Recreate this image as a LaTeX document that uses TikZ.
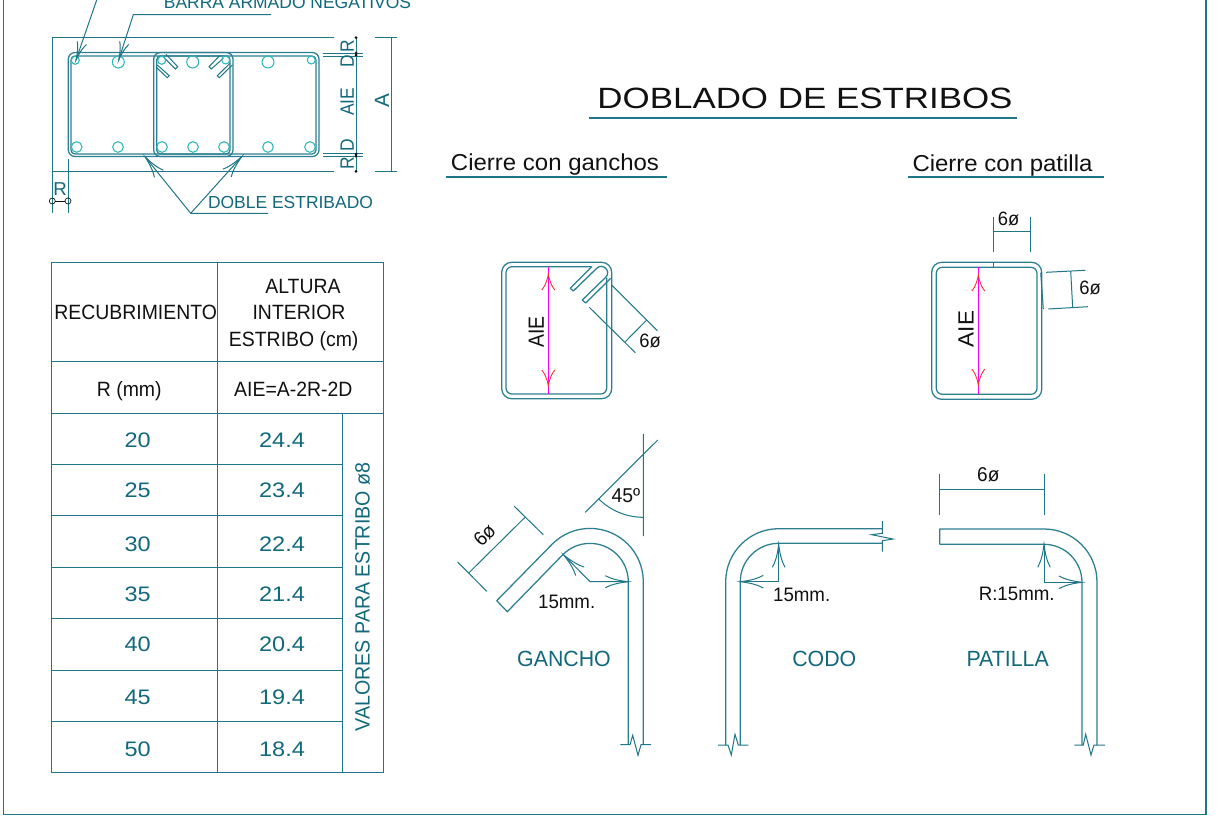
\documentclass[tikz,border=0pt]{standalone}
\usepackage{graphicx}
\usepackage{fontspec}
\setmainfont{Liberation Sans}
\definecolor{tl}{HTML}{1F7687}
\definecolor{tlst}{HTML}{2B7F90}
\definecolor{tltxt}{HTML}{12697C}
\definecolor{cyanb}{HTML}{2DB8B8}
\definecolor{ink}{HTML}{111111}
\definecolor{mgn}{HTML}{FF00FF}
\definecolor{rdb}{HTML}{FF2A2A}
\newcommand{\T}[8]{\node[inner sep=0,outer sep=0,rotate=#6,text=#7,text height=#4*0.716pt,text depth=0pt,font=\fontsize{#4pt}{#4pt}\selectfont] (#1) at (#2,#3) {\scalebox{#5}[1]{#8}};}
\newcommand{\barbs}[6]{\draw[#1,shift={(#2,#3)},rotate=#4] (#5,#6) .. controls (0.8*#5,0.6*#6) and (0.5*#5,0.2*#6) .. (0,0) .. controls (0.5*#5,-0.2*#6) and (0.8*#5,-0.6*#6) .. (#5,-#6);}
\tikzset{ln/.style={draw=tl,line width=0.75pt},st/.style={draw=tlst,line width=0.95pt,line join=round},
 bar/.style={draw=cyanb,line width=0.8pt},mg/.style={draw=mgn,line width=0.85pt},rd/.style={draw=rdb,line width=0.65pt}}
\begin{document}
\begin{tikzpicture}[x=0.75pt,y=-0.75pt]
\fill[white] (0,0) rectangle (1229,818);
\useasboundingbox (0,0) rectangle (1229,818);
\clip (0,0) rectangle (1229,818);
% frame
\draw[ln,line width=0.95pt] (3.5,0) -- (3.5,814.5) -- (1206,814.5) -- (1206,0);
% ---------- section ----------
\draw[ln] (334,37.7) -- (52,37.7) -- (52,171.3) -- (334,171.3);
\draw[ln] (323,53) -- (363,53) (323,56) -- (363,56) (323,153.5) -- (363,153.5) (323,156.5) -- (363,156.5);
\draw[ln] (356,37.7) -- (356,171.3);
\foreach \yy in {37.7,53,55,154,156,171.3} \fill[ink] (356,\yy) circle[radius=1.5];
\draw[ln] (375,37.7) -- (397,37.7) (375,171.3) -- (397,171.3) (391.7,37.7) -- (391.7,171.3);
\draw[st,rounded corners=5pt] (68.3,52.5) rectangle (319,156.5);
\draw[st,rounded corners=3pt] (71,56) rectangle (316,154);
\draw[st,rounded corners=5pt] (153.7,52.5) rectangle (233,156.5);
\draw[st,rounded corners=3pt] (156.7,56) rectangle (230,154);
\draw[ln] (166,54.3) -- (177.7,66.7) -- (175.3,69) -- (163.7,57.3);
\draw[ln] (157.3,65) -- (169.3,75.7) -- (167.3,77.7) -- (156.3,67.3);
\draw[ln] (220,55.3) -- (209,66.7) -- (211.3,69) -- (223.3,58.3);
\draw[ln] (230,63.3) -- (217.3,75.7) -- (219.3,77.7) -- (232.3,65);
\foreach \xx/\yy/\rr in {75.3/60.3/4,118.3/62/6,161.7/60.3/4,192.7/62/6,225.7/60/4,268/62/6,311.3/60/4,
 76.7/147/5.3,118/147/5.3,162/147/5.3,193/147/5.3,224/147/5.3,268/147/5.3,310/147/5.3}
 \draw[bar] (\xx,\yy) circle[radius=\rr];
% leaders
\draw[ln] (96.7,0) -- (76,60);
\barbs{ln}{76}{60}{71}{18}{4.8}
\draw[ln] (271,14.7) -- (133.3,14.7) -- (118.7,60);
\barbs{ln}{118.7}{60}{72}{18}{4.8}
\draw[ln] (268,213.3) -- (190.7,213.3) -- (145,156.7);
\draw[ln] (190.7,213.3) -- (241.7,156.7);
\barbs{ln}{145}{156.7}{-51}{22}{5.7}
\barbs{ln}{241.7}{156.7}{228}{22}{5.7}
% R dimension
\draw[ln] (52.3,171) -- (52.3,213) (68,159) -- (68,213);
\draw[draw=ink,line width=0.5pt] (52.3,201) circle[radius=3] (68,201) circle[radius=3];
\draw[draw=ink,line width=0.5pt] (55.3,201) -- (65,201);
\T{barra}{287.5}{2.7}{13.1}{1}{0}{tltxt}{BARRA ARMADO NEGATIVOS}
\T{doble}{290.5}{202}{13.1}{1}{0}{tltxt}{DOBLE ESTRIBADO}
\T{rr}{60}{189}{14}{1}{0}{tltxt}{R}
\T{sr1}{347}{46.5}{14.5}{0.9}{90}{tltxt}{R}
\T{sd1}{347}{61.7}{14.5}{0.9}{90}{tltxt}{D}
\T{saie}{347}{101.7}{14.5}{0.9}{90}{tltxt}{AIE}
\T{sd2}{347}{145}{14.5}{0.9}{90}{tltxt}{D}
\T{sr2}{347}{163}{14.5}{0.9}{90}{tltxt}{R}
\T{sa}{381.7}{101}{15.5}{1}{90}{tltxt}{A}
% ---------- table ----------
\draw[ln] (51.3,262.3) rectangle (383.3,772.7);
\draw[ln] (217.3,262.3) -- (217.3,772.7);
\draw[ln] (342.3,413) -- (342.3,772.7);
\draw[ln] (51.3,361.7) -- (383.3,361.7);
\draw[ln] (51.3,413) -- (383.3,413);
\foreach \yy in {464.3,515.7,567.3,618.7,670,721.3} \draw[ln] (51.3,\yy) -- (342.3,\yy);
\T{h1}{135.7}{312.3}{15.5}{0.94}{0}{ink}{RECUBRIMIENTO}
\T{h2}{303}{285.7}{15.5}{0.94}{0}{ink}{ALTURA}
\T{h3}{299}{312.3}{15.5}{0.94}{0}{ink}{INTERIOR}
\T{h4}{293.7}{339.3}{15.5}{0.94}{0}{ink}{ESTRIBO (cm)}
\T{s1}{129.3}{389}{15.5}{0.94}{0}{ink}{R (mm)}
\T{s2}{293.3}{389}{15.5}{0.94}{0}{ink}{AIE=A-2R-2D}
\T{a1}{137.7}{440}{15.75}{1.12}{0}{tltxt}{20}
\T{a2}{137.7}{490}{15.75}{1.12}{0}{tltxt}{25}
\T{a3}{137.7}{544}{15.75}{1.12}{0}{tltxt}{30}
\T{a4}{137.7}{594}{15.75}{1.12}{0}{tltxt}{35}
\T{a5}{137.7}{644}{15.75}{1.12}{0}{tltxt}{40}
\T{a6}{137.7}{697}{15.75}{1.12}{0}{tltxt}{45}
\T{a7}{137.7}{749}{15.75}{1.12}{0}{tltxt}{50}
\T{b1}{282}{440}{15.75}{1.12}{0}{tltxt}{24.4}
\T{b2}{282}{490}{15.75}{1.12}{0}{tltxt}{23.4}
\T{b3}{282}{544}{15.75}{1.12}{0}{tltxt}{22.4}
\T{b4}{282}{594}{15.75}{1.12}{0}{tltxt}{21.4}
\T{b5}{282}{644}{15.75}{1.12}{0}{tltxt}{20.4}
\T{b6}{282}{697}{15.75}{1.12}{0}{tltxt}{19.4}
\T{b7}{282}{749}{15.75}{1.12}{0}{tltxt}{18.4}
\T{val}{362.3}{597}{15.5}{0.95}{90}{tltxt}{VALORES PARA ESTRIBO ø8}
% ---------- titles ----------
\T{tit}{805}{98}{22}{1.19}{0}{ink}{DOBLADO DE ESTRIBOS}
\draw[ln,line width=0.9pt] (589,118) -- (1017,118);
\T{cg}{555}{162}{17.3}{1.04}{0}{ink}{Cierre con ganchos}
\draw[ln,line width=0.9pt] (446,177) -- (667,177);
\T{cp}{1002.5}{163}{17.3}{1.04}{0}{ink}{Cierre con patilla}
\draw[ln,line width=0.9pt] (908,177) -- (1104,177);
% ---------- stirrup with hooks ----------
\draw[st,rounded corners=7.5pt] (501.7,262.3) rectangle (611.7,398.7);
\draw[st,rounded corners=4.5pt] (591.7,266.7) -- (506,266.7) -- (506,394) -- (606.7,394) -- (606.7,277.5);
\draw[st] (591.7,266.7) -- (570.3,288.3) -- (573.3,291) -- (596.7,268.3)
  .. controls (602.7,262.3) and (611.7,271.3) .. (605.7,277.3) -- (582.3,300) -- (585.7,303) -- (610.7,278.3);
\draw[ln] (611.7,285) -- (657.3,330.7) (589.3,307.3) -- (635.3,352.7) (646.7,320) -- (624.7,342.3);
\T{g6}{650}{341}{14.5}{0.95}{0}{ink}{6ø}
\draw[mg] (548.3,266.7) -- (548.3,394);
\barbs{rd}{548.3}{274}{-90}{16}{6.5}
\barbs{rd}{548.3}{386}{90}{16}{6.5}
\T{gaie}{536}{332}{16.5}{0.88}{90}{ink}{AIE}
% ---------- stirrup with patilla ----------
\draw[st,rounded corners=7.5pt] (931.7,262.3) rectangle (1041.7,399.3);
\draw[st,rounded corners=4.5pt] (936.3,267.3) rectangle (1037,394.3);
\draw[ln] (993.7,262.3) -- (993.7,267.3);
\draw[ln] (993.3,216.7) -- (993.3,251.7) (1030,216.7) -- (1030,251.7) (993.3,231.7) -- (1030,231.7);
\T{p6a}{1008.5}{219}{14.5}{0.95}{0}{ink}{6ø}
\draw[ln] (1046,272.3) -- (1085.3,270.3) (1048.3,309) -- (1088,306.7) (1070.7,271.3) -- (1072.7,307.7) (1040.7,272.7) -- (1043.3,309);
\T{p6b}{1090}{288}{14.5}{0.95}{0}{ink}{6ø}
\draw[mg] (978.3,267.3) -- (978.3,394.3);
\barbs{rd}{978.3}{275}{-90}{16}{6.5}
\barbs{rd}{978.3}{385}{90}{16}{6.5}
\T{paie}{965.7}{329}{16.5}{1.02}{90}{ink}{AIE}
% ---------- GANCHO ----------
\draw[st] (643.3,744.7) -- (643.3,581.7) arc[start angle=0,end angle=-135,radius=53.3] -- (496.7,600.7) -- (507.3,611.7) -- (562.9,554.6)
  arc[start angle=-135,end angle=0,radius=38.3] -- (628.3,744.7);
\draw[ln] (620.3,744.7) -- (630,744.7) -- (632.7,735.3) -- (638,755.3) -- (641,744.7) -- (651,744.7);
\draw[ln] (563.7,555) -- (590,581.7) -- (628.3,581.7);
\barbs{ln}{563.7}{555}{-45}{23}{6}
\barbs{ln}{628.3}{581.7}{180}{23}{6}
\draw[ln] (525,517.3) -- (469,572.7) (514,506) -- (543.3,534.7) (457.7,562) -- (486.7,591.3);
\T{g6a}{484.3}{535}{15}{0.95}{45}{ink}{6ø}
\draw[ln] (643.3,434) -- (643.3,536) (657.7,440) -- (585.3,512.3);
\draw[ln] (643.3,517.3) arc[start angle=90,end angle=135,radius=63.3];
\T{g45}{626}{495.3}{15}{0.97}{0}{ink}{45º}
\T{g15}{566.7}{601.7}{14.6}{0.96}{0}{ink}{15mm.}
\T{gan}{564}{658.7}{16.5}{0.97}{0}{tltxt}{GANCHO}
% ---------- CODO ----------
\draw[st] (725.7,745) -- (725.7,581.7) arc[start angle=180,end angle=270,radius=53] -- (882.3,528.7);
\draw[st] (740.3,745) -- (740.3,581.7) arc[start angle=180,end angle=270,radius=38.4] -- (882.3,543.3);
\draw[ln] (882.3,521) -- (882.3,533.3) -- (871.7,534.7) -- (893,539) -- (882.3,540.7) -- (882.3,551.7);
\draw[ln] (718,745) -- (728,745) -- (731.3,755) -- (735,734.3) -- (738.3,745) -- (748.3,745);
\draw[ln] (740.3,581.7) -- (778.7,581.7) -- (778.7,544.3);
\barbs{ln}{740.3}{581.7}{0}{23}{6.3}
\barbs{ln}{778.7}{544.3}{-90}{23}{6.3}
\T{c15}{801.7}{594.3}{14.6}{0.96}{0}{ink}{15mm.}
\T{cod}{824.3}{658.3}{16.5}{0.97}{0}{tltxt}{CODO}
% ---------- PATILLA ----------
\draw[st] (939.7,544.3) -- (939.7,529) -- (1044,529) arc[start angle=-90,end angle=0,radius=53] -- (1097,745);
\draw[st] (939.7,544.3) -- (1044,544.3) arc[start angle=-90,end angle=0,radius=38] -- (1082,745);
\draw[ln] (1074.3,745) -- (1083.3,745) -- (1085.7,734.3) -- (1091,755) -- (1094,745) -- (1105,745);
\draw[ln] (1044,544.3) -- (1044,582.3) -- (1082,582.3);
\barbs{ln}{1044}{544.3}{-90}{23}{6.3}
\barbs{ln}{1082}{582.3}{180}{23}{6.3}
\draw[ln] (939.7,474) -- (939.7,515) (1044,474) -- (1044,515) (939.7,489.3) -- (1044,489.3);
\T{p6c}{988.3}{474}{15}{0.95}{0}{ink}{6ø}
\T{p15}{1016.7}{594}{14.6}{0.96}{0}{ink}{R:15mm.}
\T{pat}{1007.7}{658.3}{16.5}{0.97}{0}{tltxt}{PATILLA}
\end{tikzpicture}
\end{document}
